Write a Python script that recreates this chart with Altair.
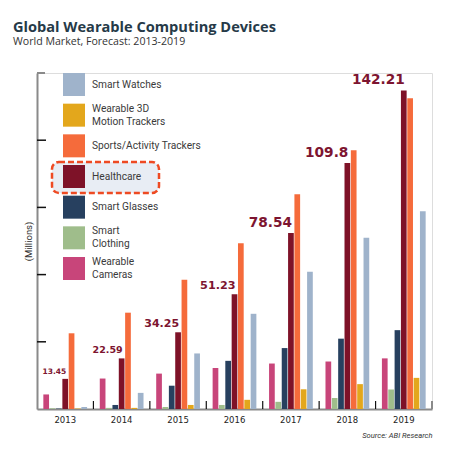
import altair as alt
import pandas as pd

years = ["2013", "2014", "2015", "2016", "2017", "2018", "2019"]
wearable_cameras = [6.5, 13.6, 15.8, 18.3, 20.3, 21.2, 22.6]
smart_clothing = [0.3, 0.5, 0.9, 1.8, 3.2, 4.9, 8.7]
smart_glasses = [0.2, 1.8, 10.4, 21.5, 27.2, 31.4, 35.2]
healthcare = [13.45, 22.59, 34.25, 51.23, 78.54, 109.8, 142.21]
sports_trackers = [33.8, 43.0, 57.7, 74.0, 95.9, 115.5, 138.7]
motion_trackers_3d = [0.2, 0.5, 1.8, 4.1, 8.8, 11.1, 13.9]
smart_watches = [0.9, 7.2, 24.8, 42.5, 61.3, 76.5, 88.3]

series_legend_order = ["Smart Watches", "Wearable 3D Motion Trackers", "Sports/Activity Trackers",
                       "Healthcare", "Smart Glasses", "Smart Clothing", "Wearable Cameras"]
legend_labels = ["Smart Watches", "Wearable 3D\nMotion Trackers", "Sports/Activity Trackers",
                 "Healthcare", "Smart Glasses", "Smart\nClothing", "Wearable\nCameras"]
series_colors = ["#9fb3cb", "#e3a71c", "#f56b3b", "#7e1228", "#27405f", "#9fbd8b", "#c8457a"]
bar_order = ["Wearable Cameras", "Smart Clothing", "Smart Glasses", "Healthcare",
             "Sports/Activity Trackers", "Wearable 3D Motion Trackers", "Smart Watches"]
y_ticks = [30, 60, 90, 120]
y_top = [150]

series_values = {
    "Wearable Cameras": wearable_cameras,
    "Smart Clothing": smart_clothing,
    "Smart Glasses": smart_glasses,
    "Healthcare": healthcare,
    "Sports/Activity Trackers": sports_trackers,
    "Wearable 3D Motion Trackers": motion_trackers_3d,
    "Smart Watches": smart_watches,
}
rows = []
for s, vals in series_values.items():
    for y, v in zip(years, vals):
        rows.append({"year": y, "series": s, "value": v, "label": str(v)})
df = pd.DataFrame(rows)

legend_df = pd.DataFrame({"series": series_legend_order, "text": legend_labels})
legend_df["lines"] = legend_df["text"].str.count("\n") + 1

W, H = 395, 336

color_scale = alt.Scale(domain=series_legend_order, range=series_colors)

x_enc = alt.X(
    "year:N", sort=years,
    scale=alt.Scale(paddingInner=0, paddingOuter=0),
    axis=alt.Axis(
        title="Source: ABI Research", titleAnchor="end", titleFontStyle="italic",
        titleFont="Roboto", titleFontSize=7.6, titleFontWeight="normal", titleColor="#333333",
        titlePadding=8, labelAngle=0, labelFont="DejaVu Sans", labelFontSize=8.5,
        labelColor="#222222", labelPadding=6, ticks=False, domainColor="#8a8a8a",
        domainWidth=2,
    ),
)
y_enc = alt.Y(
    "value:Q",
    scale=alt.Scale(domain=[0, 150], nice=False),
    axis=alt.Axis(
        title="(Millions)", labels=False, ticks=False, grid=False,
        domainColor="#8a8a8a", domainWidth=2, titleFont="Roboto", titleFontSize=9.5,
        titleFontWeight="normal", titleColor="#333333", titlePadding=4,
    ),
)

bars = alt.Chart(df).mark_bar().encode(
    x=x_enc,
    xOffset=alt.XOffset("series:N", sort=bar_order,
                        scale=alt.Scale(paddingOuter=1, paddingInner=0.1)),
    y=y_enc,
    color=alt.Color("series:N", scale=color_scale, legend=None),
)

labels = alt.Chart(df).transform_filter(alt.datum.series == "Healthcare").mark_text(
    align="right", baseline="bottom", dx=1, dy=-3, font="DejaVu Sans",
    fontWeight="bold", color="#7d1430",
).encode(
    x=alt.X("year:N", sort=years),
    xOffset=alt.XOffset("series:N", sort=bar_order),
    y=alt.Y("value:Q"),
    text="label:N",
    size=alt.Size("value:Q", scale=alt.Scale(type="threshold", domain=[20, 30, 40, 60],
                                              range=[7.5, 9.5, 11, 11.2, 13.7]), legend=None),
)

sep_years = years[1:]
seps = alt.Chart(pd.DataFrame({"year": sep_years})).mark_rule(color="#111111", strokeWidth=1.2).encode(
    x=alt.X("year:N", sort=years, bandPosition=0), y=alt.value(H), y2=alt.value(H - 8)
)
end_tick = alt.Chart(pd.DataFrame({"year": [years[-1]]})).mark_rule(color="#8a8a8a", strokeWidth=2).encode(
    x=alt.X("year:N", sort=years, bandPosition=1), y=alt.value(H), y2=alt.value(H - 8)
)
yt = alt.Chart(pd.DataFrame({"v": y_ticks})).mark_rule(color="#111111", strokeWidth=1.5).encode(
    y=alt.Y("v:Q"), x=alt.value(0), x2=alt.value(9)
)
ytop = alt.Chart(pd.DataFrame({"v": y_top})).mark_rule(color="#8a8a8a", strokeWidth=2).encode(
    y=alt.Y("v:Q"), x=alt.value(0), x2=alt.value(8)
)

main = alt.layer(bars, seps, end_tick, yt, ytop, labels)

# custom legend (own band scale for rows)
leg_y = alt.Y("series:N", sort=series_legend_order, axis=None,
              scale=alt.Scale(range=[0, 207], paddingInner=0.25, paddingOuter=0))

highlight = alt.Chart(pd.DataFrame({"k": [0]})).mark_rect(
    fill="#e8edf4", stroke="#ee4a22", strokeWidth=2.5, strokeDash=[6, 3], cornerRadius=7
).encode(x=alt.value(15), x2=alt.value(122), y=alt.value(89), y2=alt.value(120))

leg_sq = alt.Chart(legend_df).mark_rect().encode(
    y=leg_y, x=alt.value(26), x2=alt.value(48),
    color=alt.Color("series:N", scale=color_scale, legend=None),
)
leg_txt1 = alt.Chart(legend_df).transform_filter(alt.datum.lines == 1).mark_text(
    align="left", baseline="middle", font="Roboto", fontSize=10.2, color="#3a3a3a"
).encode(y=leg_y, x=alt.value(55), text="text:N")
leg_txt2 = alt.Chart(legend_df).transform_filter(alt.datum.lines == 2).mark_text(
    align="left", baseline="middle", font="Roboto", fontSize=10.2, color="#3a3a3a",
    lineBreak="\n", lineHeight=13, dy=-6.5
).encode(y=leg_y, x=alt.value(55), text="text:N")

legend = alt.layer(leg_sq, leg_txt1, leg_txt2)

chart = alt.layer(highlight, main, legend).resolve_scale(y="independent").properties(
    width=W, height=H,
    autosize=alt.AutoSizeParams(type="none"),
    padding={"left": 29, "top": 65, "right": 10, "bottom": 34},
    title=alt.TitleParams(
        text="Global Wearable Computing Devices",
        subtitle="World Market, Forecast: 2013-2019",
        anchor="start", frame="group", dx=-24, offset=24,
        font="Open Sans", fontSize=14.6, fontWeight="bold", color="#263a48",
        subtitleFont="Open Sans", subtitleFontSize=10.6, subtitleColor="#333333",
        subtitlePadding=3,
    ),
).configure_view(stroke=None).configure(background="white")

chart.save("out.html", embed_options={"renderer": "svg", "actions": False})
